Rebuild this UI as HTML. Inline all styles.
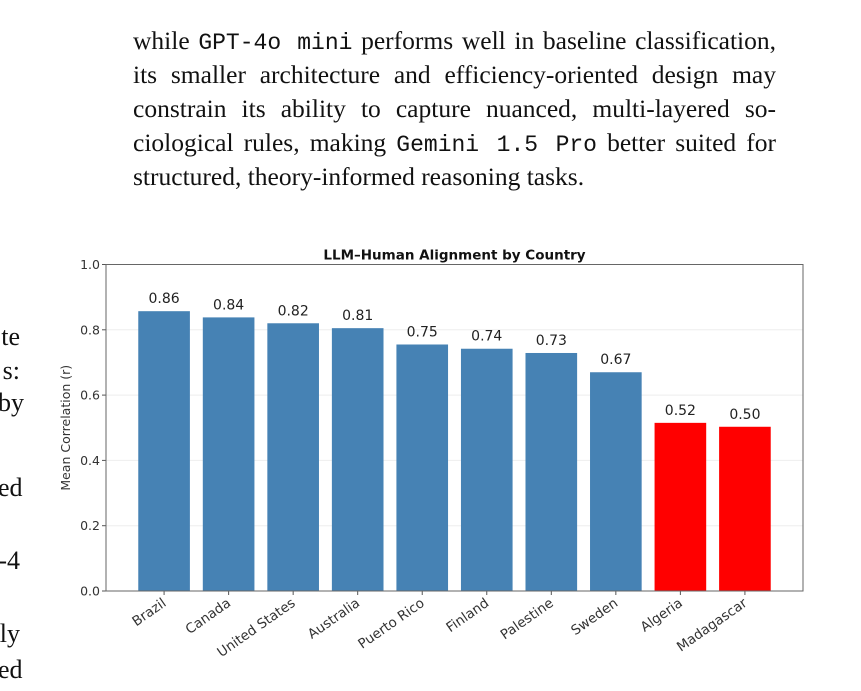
<!DOCTYPE html>
<html><head><meta charset="utf-8">
<style>
body{margin:0;width:861px;height:691px;background:#fff;overflow:hidden;position:relative;font-family:"Liberation Serif",serif;}
#para{position:absolute;left:133px;top:24px;width:643px;font-size:25.5px;line-height:34px;color:#111;}
.ln{display:block;text-align:justify;text-align-last:justify;white-space:nowrap;height:34px;}
.ln.last{text-align-last:left;}
.mono{font-family:"Liberation Mono",monospace;font-size:23px;}
.frag{position:absolute;left:-2px;width:22px;text-align:right;font-size:26px;color:#111;white-space:nowrap;}
svg{position:absolute;left:0;top:0;}
</style></head><body>
<div id="para">
<span class="ln" style="white-space:normal">while <span class="mono">GPT-4o mini</span> performs well in baseline classification,</span>
<span class="ln" style="white-space:normal">its smaller architecture and efficiency-oriented design may</span>
<span class="ln" style="white-space:normal">constrain its ability to capture nuanced, multi-layered so-</span>
<span class="ln" style="white-space:normal">ciological rules, making <span class="mono">Gemini 1.5 Pro</span> better suited for</span>
<span class="ln last">structured, theory-informed reasoning tasks.</span>
</div>
<div class="frag" style="top:322px">te</div>
<div class="frag" style="top:356px">s:</div>
<div class="frag" style="top:388px">by</div>
<div class="frag" style="top:473px">ed</div>
<div class="frag" style="top:546px">-4</div>
<div class="frag" style="top:619px">ly</div>
<div class="frag" style="top:655px">ed</div>
<svg id="chart" width="861" height="691"></svg>
<script>
const categories=["Brazil","Canada","United States","Australia","Puerto Rico","Finland","Palestine","Sweden","Algeria","Madagascar"];
const values=[0.857,0.838,0.820,0.805,0.755,0.742,0.729,0.670,0.515,0.503];
const valueLabels=["0.86","0.84","0.82","0.81","0.75","0.74","0.73","0.67","0.52","0.50"];
const colors=["#4682b4","#4682b4","#4682b4","#4682b4","#4682b4","#4682b4","#4682b4","#4682b4","#ff0000","#ff0000"];
const yTicks=[0,0.2,0.4,0.6,0.8,1.0];
const yTickLabels=["0.0","0.2","0.4","0.6","0.8","1.0"];
const NS="http://www.w3.org/2000/svg";
const svg=document.getElementById('chart');
const L=106,R=803,T=264.5,B=591;
const xMin=-0.9,xMax=categories.length-0.1;
const x=v=>L+(v-xMin)/(xMax-xMin)*(R-L);
const y=v=>B-(v-0)/(1-0)*(B-T);
function mk(tag,a){const e=document.createElementNS(NS,tag);for(const k in a)e.setAttribute(k,a[k]);svg.appendChild(e);return e;}
const SF='"DejaVu Sans","Liberation Sans",sans-serif';
yTicks.forEach((t,i)=>{
  if(i>0&&i<yTicks.length-1){const g=mk('line',{x1:L,x2:R,y1:y(t),y2:y(t),stroke:'#eee','stroke-width':1});
  
  }
  const tk=mk('line',{x1:L-4,x2:L,y1:y(t),y2:y(t),stroke:'#555'});
  
  
  const tl=mk('text',{x:L-6,y:y(t)+4.5,'text-anchor':'end','font-size':12.5,fill:'#333','font-family':SF});
  tl.textContent=yTickLabels[i];
  
  
});
categories.forEach((c,i)=>{
  const w=0.8;
  const r=mk('rect',{x:x(i-w/2),y:y(values[i]),width:x(i+w/2)-x(i-w/2),height:y(0)-y(values[i]),fill:colors[i]});
  
  
  const vl=mk('text',{x:x(i),y:y(values[i])-8,'text-anchor':'middle','font-size':14,fill:'#222','font-family':SF});
  vl.textContent=valueLabels[i];
  
  
  const tk=mk('line',{x1:x(i),x2:x(i),y1:B,y2:B+4,stroke:'#555'});
  
  
  const ax=x(i)+3,ay=B+14;
  const xl=mk('text',{x:ax,y:ay,'text-anchor':'end','font-size':13.5,fill:'#333','font-family':SF,transform:`rotate(-35 ${ax} ${ay})`});
  xl.textContent=c;
  
  
});
const fr=mk('rect',{x:L,y:T,width:R-L,height:B-T,fill:'none',stroke:'#666','stroke-width':1});


const tt=mk('text',{x:(L+R)/2,y:T-5,'text-anchor':'middle','font-size':13.5,'font-weight':'bold',fill:'#111','font-family':SF});
tt.textContent='LLM–Human Alignment by Country';


const yt=mk('text',{x:70,y:(T+B)/2,'text-anchor':'middle','font-size':12.5,fill:'#333','font-family':SF,transform:`rotate(-90 70 ${(T+B)/2})`});
yt.textContent='Mean Correlation (r)';


</script>
</body></html>
